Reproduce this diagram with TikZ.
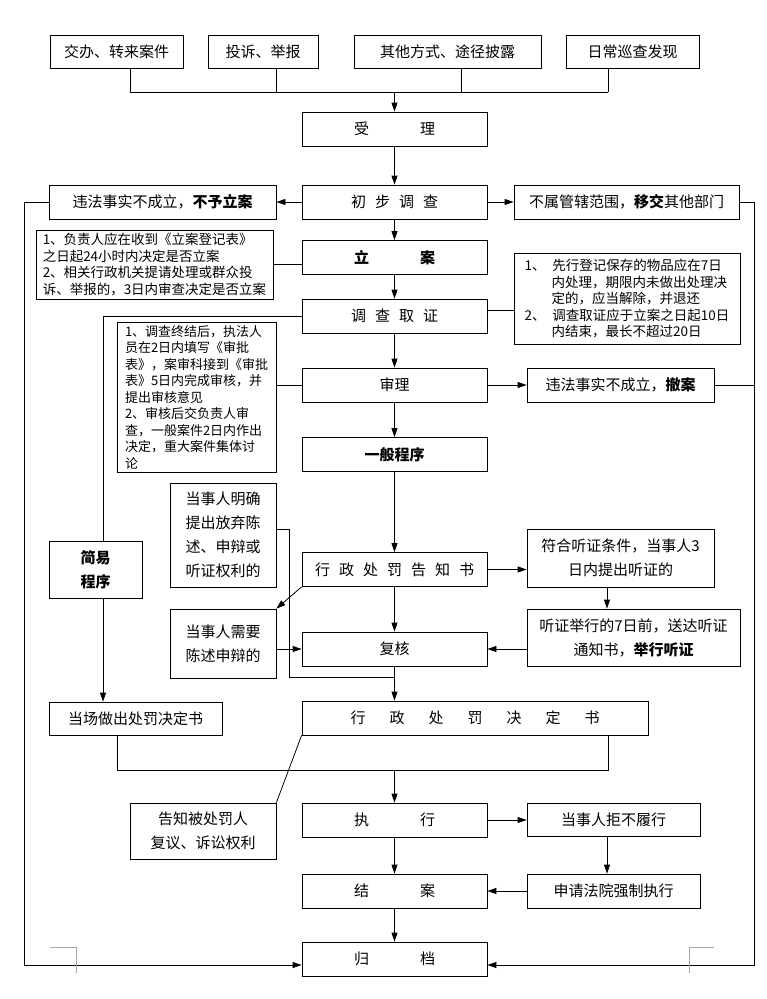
\documentclass[tikz,border=0pt]{standalone}
\usepackage{fontspec}
\setmainfont{Noto Sans CJK SC}
\usetikzlibrary{arrows.meta}

\begin{document}
\begin{tikzpicture}[
	x=1pt,y=-1pt,
	line width=.8pt,
	>={Triangle[length=9pt,width=6pt]},
	box/.style={draw,inner sep=0pt,align=center,font=\fontsize{15}{24}\selectfont},
	main/.style={box,minimum width=185,minimum height=34},
	note/.style={draw,inner sep=0pt,align=left,font=\fontsize{13}{16.5}\selectfont},
	bignote/.style={note,font=\fontsize{13.5}{16.5}\selectfont}
]

	% definitions
	\def\gap{\hspace{3.4em}}
	\def\sgap{\hspace{.6em}}
	\def\wgap{\hspace{1.6em}}

	\useasboundingbox (0,0) rectangle (767,999);

	% sources
	\node[box,minimum width=133,minimum height=33] (src1) at (116.5,52) {交办、转来案件};
	\node[box,minimum width=110,minimum height=33] (src2) at (263,52) {投诉、举报};
	\node[box,minimum width=187,minimum height=33] (src3) at (447.5,52) {其他方式、途径披露};
	\node[box,minimum width=133,minimum height=33] (src4) at (632.5,52) {日常巡查发现};

	% main column
	\node[main] (shouli) at (394.5,129) {受\gap 理};
	\node[main] (chubu) at (394.5,202) {初\sgap 步\sgap 调\sgap 查};
	\node[main] (lian) at (394.5,257.5) {\textbf{立\gap 案}};
	\node[main] (diaocha) at (394.5,316) {调\sgap 查\sgap 取\sgap 证};
	\node[main] (shenli) at (394.5,385) {审理};
	\node[main] (yiban) at (394.5,454.5) {\textbf{一般程序}};
	\node[main] (gaozhi) at (394.5,569.5) {行\sgap 政\sgap 处\sgap 罚\sgap 告\sgap 知\sgap 书};
	\node[main] (fuhe) at (394.5,649) {复核};
	\node[box,minimum width=346,minimum height=34] (jueding) at (475,718) {行\wgap 政\wgap 处\wgap 罚\wgap 决\wgap 定\wgap 书};
	\node[main] (zhixing) at (394.5,820) {执\gap 行};
	\node[main] (jiean) at (394.5,891) {结\gap 案};
	\node[main] (guidang) at (394.5,959) {归\gap 档};

	% left side
	\node[box,minimum width=227,minimum height=34] (buyu) at (162.5,202) {违法事实不成立，\textbf{不予立案}};
	\node[bignote,minimum width=237,minimum height=69] (note1) at (154.5,264.5) {1、负责人应在收到《立案登记表》\\之日起24小时内决定是否立案\\2、相关行政机关提请处理或群众投\\诉、举报的，3日内审查决定是否立案};
	\node[note,minimum width=159,minimum height=150] (note3) at (196.5,397) {1、调查终结后，执法人\\员在2日内填写《审批\\表》，案审科接到《审批\\表》5日内完成审核，并\\提出审核意见\\2、审核后交负责人审\\查，一般案件2日内作出\\决定，重大案件集体讨\\论};
	\node[box,minimum width=93,minimum height=57] (jianyi) at (95.5,569.5) {\textbf{简易}\\\textbf{程序}};
	\node[box,minimum width=106,minimum height=104] (fangqi) at (223,535) {当事人明确\\提出放弃陈\\述、申辩或\\听证权利的};
	\node[box,minimum width=106,minimum height=69] (chenshu) at (223,643.5) {当事人需要\\陈述申辩的};
	\node[box,minimum width=173,minimum height=33] (dangchang) at (135.5,718.5) {当场做出处罚决定书};
	\node[box,minimum width=146,minimum height=56] (quanli) at (203,831) {告知被处罚人\\复议、诉讼权利};

	% right side
	\node[box,minimum width=225,minimum height=34] (yijiao) at (626.5,202) {不属管辖范围，\textbf{移交}其他部门};
	\node[bignote,minimum width=226,minimum height=91] (note2) at (627,298.5) {1、\hspace{.5em}先行登记保存的物品应在7日\\\hspace*{2em}内处理，期限内未做出处理决\\\hspace*{2em}定的，应当解除，并退还\\2、\hspace{.5em}调查取证应于立案之日起10日\\\hspace*{2em}内结束，最长不超过20日};
	\node[box,minimum width=187,minimum height=34] (chean) at (620.5,385) {违法事实不成立，\textbf{撤案}};
	\node[box,minimum width=187,minimum height=58] (tingzheng) at (620.5,558) {符合听证条件，当事人3\\日内提出听证的};
	\node[box,minimum width=213,minimum height=57] (tongzhi) at (633.5,637.5) {听证举行的7日前，送达听证\\通知书，\textbf{举行听证}};
	\node[box,minimum width=173,minimum height=33] (jubu) at (613.5,819.5) {当事人拒不履行};
	\node[box,minimum width=173,minimum height=34] (qiangzhi) at (613.5,891) {申请法院强制执行};

	% helper coordinates
	\coordinate (busL) at (130,92);
	\coordinate (busR) at (608,92);
	\coordinate (leftrail) at (24,965);
	\coordinate (rightrail) at (754,965);
	\coordinate (simple) at (103,316);
	\coordinate (bypass) at (289,677);
	\coordinate (hx) at (607,0);
	\coordinate (m1) at (117,770);
	\coordinate (m2) at (608,770);

	% sources into acceptance
	\foreach \s/\x in {src1/130,src2/276,src3/461,src4/608}{
		\coordinate (b-\s) at (\x,92);
		\draw (\s.south -| b-\s) -- (b-\s);
	}
	\draw (busL) -- (busR);
	\draw[->] (shouli.north |- busL) -- (shouli.north);

	% main flow
	\foreach \a/\b in {shouli/chubu,chubu/lian,lian/diaocha,diaocha/shenli,shenli/yiban,yiban/gaozhi,gaozhi/fuhe,fuhe/jueding,zhixing/jiean,jiean/guidang}
		\draw[->] (\a.south) -- (\a.south |- \b.north);

	% branches
	\draw[->] (chubu.west) -- (buyu.east);
	\draw[->] (chubu.east) -- (yijiao.west);
	\draw (note1.east) -- (note1.east -| lian.west);
	\draw ([yshift=6]diaocha.east) -- ([yshift=6]diaocha.east -| note2.west);
	\draw (shenli.west) -- (shenli.west -| note3.east);
	\draw[->] (shenli.east) -- (chean.west);
	\draw (chean.east) -- (chean.east -| rightrail);

	% rails to archive
	\draw[->] (buyu.west) -| (leftrail) -- (leftrail -| guidang.west);
	\draw[->] (yijiao.east) -| (rightrail) -- (rightrail -| guidang.east);

	% simple procedure
	\draw (diaocha.west) -- (diaocha.west -| simple) -- (simple |- jianyi.north);
	\draw[->] (simple |- jianyi.south) -- (simple |- dangchang.north);

	% notice and hearing
	\draw ([yshift=6]fangqi.east) -| (bypass) -- (bypass -| fuhe.south);
	\draw[->] (gaozhi.south west) -- (chenshu.north east);
	\draw[->] (chenshu.east |- fuhe.west) -- (fuhe.west);
	\draw[->] (gaozhi.east) -- (gaozhi.east -| tingzheng.west);
	\draw[->] (tingzheng.south -| hx) -- (tongzhi.north -| hx);
	\draw[->] (tongzhi.west |- fuhe.east) -- (fuhe.east);

	% decision and execution
	\draw (dangchang.south -| m1) -- (m1) -- (m2) -- (jueding.south -| m2);
	\draw[->] (zhixing.north |- m1) -- (zhixing.north);
	\draw (jueding.south west) -- (quanli.north east);
	\draw[->] (zhixing.east) -- (zhixing.east -| jubu.west);
	\draw[->] (jubu.south -| hx) -- (qiangzhi.north -| hx);
	\draw[->] (qiangzhi.west) -- (qiangzhi.west -| jiean.east);

	% crop marks
	\draw[gray!70,line width=.6pt] (50,947) -- (76,947) -- (76,973);
	\draw[gray!70,line width=.6pt] (714,947) -- (689,947) -- (689,973);

\end{tikzpicture}
\end{document}
